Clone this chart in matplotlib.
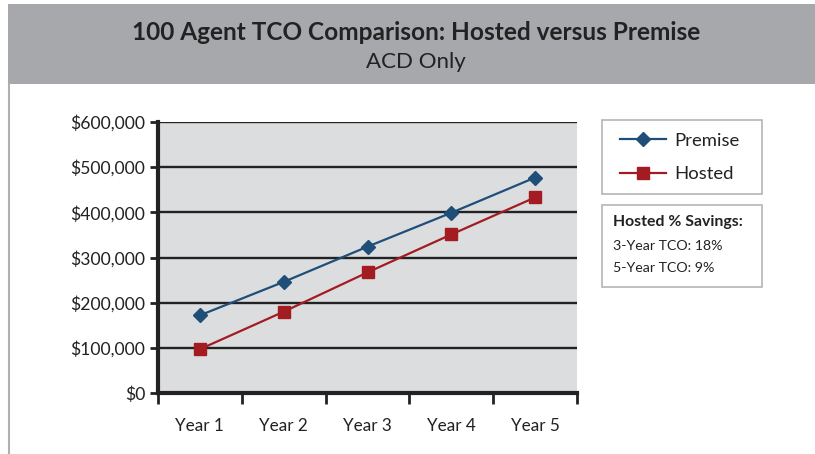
import matplotlib
matplotlib.use("Agg")
import matplotlib.pyplot as plt
from matplotlib.patches import Rectangle
from matplotlib.lines import Line2D
from matplotlib.ticker import FuncFormatter

categories = ["Year 1", "Year 2", "Year 3", "Year 4", "Year 5"]
premise = [172000, 246000, 324000, 399000, 477000]
hosted = [97000, 180000, 267000, 351000, 433000]
title = "100 Agent TCO Comparison: Hosted versus Premise"
subtitle = "ACD Only"
savings_title = "Hosted % Savings:"
savings_lines = ["3-Year TCO: 18%", "5-Year TCO: 9%"]

plt.rcParams['font.family'] = ['Lato', 'DejaVu Sans']

W, H = 815, 454
fig = plt.figure(figsize=(W / 100, H / 100), dpi=100)
fig.patch.set_facecolor("white")

def fx(x): return x / W
def fy(y): return 1 - y / H

# header band
fig.patches.append(Rectangle((fx(8), fy(84)), 1 - fx(8), fy(4) - fy(84),
                             transform=fig.transFigure, facecolor="#a7a8ab",
                             edgecolor="none", zorder=0))
# left border line
fig.lines.append(Line2D([fx(8.5), fx(8.5)], [fy(84), 0], transform=fig.transFigure,
                        color="#b0b0b0", lw=1.5))
fig.text(fx(416), fy(33), title, ha="center", va="center", fontsize=17.6,
         fontweight="bold", color="#222222")
fig.text(fx(416), fy(62), subtitle, ha="center", va="center", fontsize=16,
         color="#222222")

# plot area
ax = fig.add_axes([fx(158), fy(393), fx(577) - fx(158), fy(122) - fy(393)])
ax.set_facecolor("#dcdddf")
x = list(range(len(categories)))
ax.set_xlim(-0.5, len(categories) - 0.5)
ax.set_ylim(0, 600000)
ax.set_yticks(range(0, 600001, 100000))
ax.yaxis.set_major_formatter(FuncFormatter(lambda v, p: "${:,.0f}".format(v)))
ax.grid(axis="y", color="#222222", lw=1.7)
ax.set_axisbelow(True)
ax.set_xticks([i - 0.5 for i in range(len(categories) + 1)])
ax.set_xticklabels([])
ax.set_xticks(x, minor=True)
ax.set_xticklabels(categories, minor=True)
ax.tick_params(axis="x", which="major", length=8, width=2, color="#222222", direction="out")
ax.tick_params(axis="x", which="minor", length=0, pad=18, labelsize=12.3, labelcolor="#222222")
ax.tick_params(axis="y", length=6, width=2, color="#222222", labelsize=12.6,
               labelcolor="#222222", pad=3)
for s in ["top", "right"]:
    ax.spines[s].set_visible(False)
for s in ["left", "bottom"]:
    ax.spines[s].set_linewidth(3)
    ax.spines[s].set_color("#222222")

ax.plot(x, premise, color="#1f4e79", lw=1.6, marker="D", markersize=7,
        label="Premise", zorder=3, clip_on=False)
ax.plot(x, hosted, color="#a31c22", lw=1.6, marker="s", markersize=8,
        label="Hosted", zorder=3, clip_on=False)

# legend box
fig.patches.append(Rectangle((fx(602), fy(194)), fx(762) - fx(602), fy(120) - fy(194),
                             transform=fig.transFigure, facecolor="white",
                             edgecolor="#b5b5b5", lw=1.2))
handles, labels = ax.get_legend_handles_labels()
leg = fig.legend(handles, labels, loc="upper left",
                 bbox_to_anchor=(fx(603), fy(116)), frameon=False,
                 fontsize=13.3, handlelength=2.5, labelspacing=0.95,
                 handletextpad=0.45, labelcolor="#222222")

# savings box
fig.patches.append(Rectangle((fx(602), fy(287)), fx(762) - fx(602), fy(205) - fy(287),
                             transform=fig.transFigure, facecolor="white",
                             edgecolor="#b5b5b5", lw=1.2))
fig.text(fx(613), fy(222), savings_title, ha="left", va="center", fontsize=11.4,
         fontweight="bold", color="#222222")
for i, t in enumerate(savings_lines):
    fig.text(fx(613), fy(246 + i * 22), t, ha="left", va="center", fontsize=10.2,
             color="#222222")

fig.savefig("out.png", dpi=100)
